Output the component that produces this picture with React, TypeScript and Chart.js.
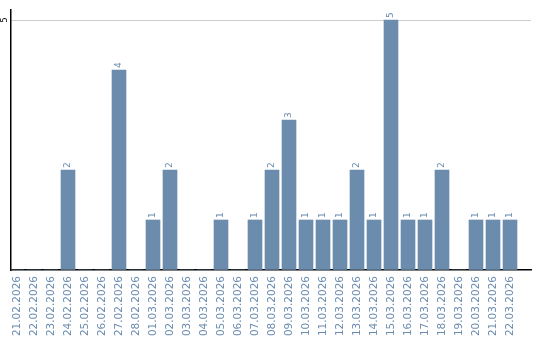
import React, { useEffect, useRef } from "react";
import { Chart, registerables } from "chart.js";

Chart.register(...registerables);

const dates = [
  "21.02.2026", "22.02.2026", "23.02.2026", "24.02.2026", "25.02.2026", "26.02.2026",
  "27.02.2026", "28.02.2026", "01.03.2026", "02.03.2026", "03.03.2026", "04.03.2026",
  "05.03.2026", "06.03.2026", "07.03.2026", "08.03.2026", "09.03.2026", "10.03.2026",
  "11.03.2026", "12.03.2026", "13.03.2026", "14.03.2026", "15.03.2026", "16.03.2026",
  "17.03.2026", "18.03.2026", "19.03.2026", "20.03.2026", "21.03.2026", "22.03.2026",
];
const counts = [0, 0, 0, 2, 0, 0, 4, 0, 1, 2, 0, 0, 1, 0, 1, 2, 3, 1, 1, 1, 2, 1, 5, 1, 1, 2, 0, 1, 1, 1];
const yTickLabels = [5];

const BAR = "#6b8cad";
const LABEL = "#6b8cb0";

const valueLabels = {
  id: "valueLabels",
  afterDatasetsDraw(chart: any) {
    const ctx = chart.ctx;
    const meta = chart.getDatasetMeta(0);
    ctx.save();
    ctx.fillStyle = LABEL;
    ctx.font = "9px 'DejaVu Sans'";
    ctx.textAlign = "left";
    ctx.textBaseline = "middle";
    meta.data.forEach((el: any, i: number) => {
      const v = counts[i];
      if (!v) return;
      ctx.save();
      ctx.translate(el.x, el.y - 2);
      ctx.rotate(-Math.PI / 2);
      ctx.fillText(String(v), 0, 0);
      ctx.restore();
    });
    const ys = chart.scales.y;
    ctx.fillStyle = "#000";
    ctx.font = "8px 'DejaVu Sans'";
    ctx.textAlign = "center";
    yTickLabels.forEach((t) => {
      ctx.save();
      ctx.translate(ys.left + 5, ys.getPixelForValue(t));
      ctx.rotate(-Math.PI / 2);
      ctx.fillText(String(t), 0, 0);
      ctx.restore();
    });
    ctx.restore();
  },
};

export default function App() {
  const ref = useRef<HTMLCanvasElement>(null);
  useEffect(() => {
    const chart = new Chart(ref.current!, {
      type: "bar",
      data: {
        datasets: [
          {
            data: counts.map((v, i) => ({ x: i, y: v })),
            backgroundColor: BAR,
            barThickness: 14,
          },
        ],
      },
      options: {
        animation: false,
        responsive: false,
        maintainAspectRatio: false,
        layout: { padding: { left: 0, right: 9, top: 10, bottom: 0 } },
        plugins: { legend: { display: false }, tooltip: { enabled: false } },
        scales: {
          x: {
            type: "linear",
            offset: false,
            min: -0.353,
            max: 30.235,
            grid: { color: "transparent", drawTicks: false, offset: false },
            border: { display: true, color: "#000", width: 1.5 },
            ticks: {
              stepSize: 1,
              includeBounds: false,
              autoSkip: false,
              minRotation: 90,
              maxRotation: 90,
              padding: 6,
              color: LABEL,
              font: { family: "'DejaVu Sans'", size: 10.5 },
              callback: (v: any) => {
                const n = Number(v);
                return Number.isInteger(n) && n >= 0 && n < dates.length ? dates[n] : "";
              },
            },
            afterFit: (s: any) => {
              s.height = 70;
              s.paddingLeft = 0;
              s.paddingRight = 0;
            },
          },
          y: {
            min: 0,
            max: 5.2,
            grid: {
              drawTicks: false,
              color: (c: any) => (c.tick && yTickLabels.includes(c.tick.value) ? "#cccccc" : "transparent"),
            },
            border: { display: true, color: "#000", width: 1.5 },
            ticks: { display: false, stepSize: 5, includeBounds: false },
            afterFit: (s: any) => {
              s.width = 11;
              s.paddingTop = 0;
              s.paddingBottom = 0;
            },
          },
        },
      },
      plugins: [valueLabels],
    } as any);
    return () => chart.destroy();
  }, []);
  return (
    <div style={{ position: "fixed", left: 0, top: 0, width: 540, height: 340, background: "#fff" }}>
      <canvas ref={ref} width={540} height={340} />
    </div>
  );
}
